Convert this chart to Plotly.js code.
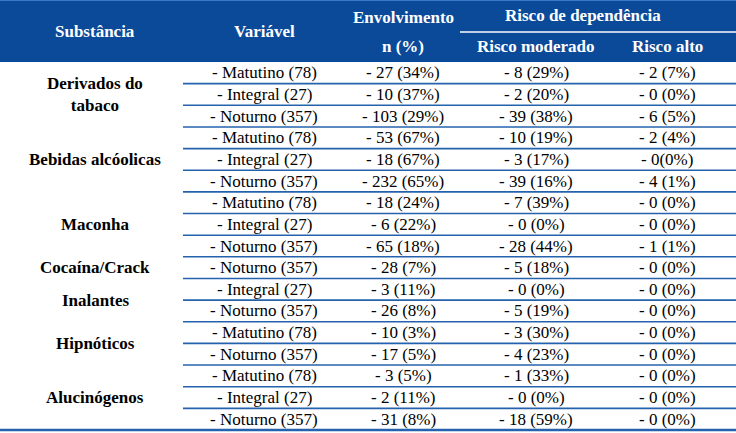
<!DOCTYPE html>
<html>
<head>
<meta charset="utf-8">
<script src="https://cdn.plot.ly/plotly-3.0.1.min.js"></script>
<style>
html,body{margin:0;padding:0;background:#fff;}
#chart{width:736px;height:433px;}
</style>
</head>
<body>
<div id="chart"></div>
<script>
// ---- DATA ----
const substances = ["Derivados do<br>tabaco", "Bebidas alcóolicas", "Maconha", "Cocaína/Crack", "Inalantes", "Hipnóticos", "Alucinógenos"];
const groupSizes = [3, 3, 3, 1, 2, 2, 3];
const variaveis = [
  "- Matutino (78)", "- Integral (27)", "- Noturno (357)",
  "- Matutino (78)", "- Integral (27)", "- Noturno (357)",
  "- Matutino (78)", "- Integral (27)", "- Noturno (357)",
  "- Noturno (357)",
  "- Integral (27)", "- Noturno (357)",
  "- Matutino (78)", "- Noturno (357)",
  "- Matutino (78)", "- Integral (27)", "- Noturno (357)"
];
const envolvimento = [
  "- 27 (34%)", "- 10 (37%)", "- 103 (29%)",
  "- 53 (67%)", "- 18 (67%)", "- 232 (65%)",
  "- 18 (24%)", "- 6 (22%)", "- 65 (18%)",
  "- 28 (7%)",
  "- 3 (11%)", "- 26 (8%)",
  "- 10 (3%)", "- 17 (5%)",
  "- 3 (5%)", "- 2 (11%)", "- 31 (8%)"
];
const riscoModerado = [
  "- 8 (29%)", "- 2 (20%)", "- 39 (38%)",
  "- 10 (19%)", "- 3 (17%)", "- 39 (16%)",
  "- 7 (39%)", "- 0 (0%)", "- 28 (44%)",
  "- 5 (18%)",
  "- 0 (0%)", "- 5 (19%)",
  "- 3 (30%)", "- 4 (23%)",
  "- 1 (33%)", "- 0 (0%)", "- 18 (59%)"
];
const riscoAlto = [
  "- 2 (7%)", "- 0 (0%)", "- 6 (5%)",
  "- 2 (4%)", "- 0(0%)", "- 4 (1%)",
  "- 0 (0%)", "- 0 (0%)", "- 1 (1%)",
  "- 0 (0%)",
  "- 0 (0%)", "- 0 (0%)",
  "- 0 (0%)", "- 0 (0%)",
  "- 0 (0%)", "- 0 (0%)", "- 0 (0%)"
];
const headers = ["Substância", "Variável", "Envolvimento", "n (%)", "Risco de dependência", "Risco moderado", "Risco alto"];

// ---- LAYOUT ----
const W = 736, H = 433;
const headerH = 62, tableBottom = 430;
const nRows = variaveis.length;
const rowH = (tableBottom - headerH) / nRows;
const colCenters = [95, 264, 403, 536, 667];
const groupHeaderCenter = 583;
const lineStart = 183, riskStart = 460;
const headerColor = "#0b4a99";
const lineColor = "#2462ae";
const serif = "Liberation Serif, DejaVu Serif, serif";

const rowY = i => headerH + (i + 0.5) * rowH;

const shapes = [];
shapes.push({type: "rect", xref: "x", yref: "y", x0: 0, x1: W, y0: 0, y1: headerH,
  fillcolor: headerColor, line: {width: 0}, layer: "below"});
shapes.push({type: "line", xref: "x", yref: "y", x0: 0, x1: W, y0: 0.5, y1: 0.5,
  line: {color: "#3a78c4", width: 1}});
shapes.push({type: "line", xref: "x", yref: "y", x0: riskStart, x1: W, y0: 32, y1: 32,
  line: {color: "#ffffff", width: 1.5}});
for (let i = 1; i < nRows; i++) {
  const y = headerH + i * rowH;
  shapes.push({type: "line", xref: "x", yref: "y", x0: lineStart, x1: W, y0: y, y1: y,
    line: {color: lineColor, width: 1.6}});
}
shapes.push({type: "line", xref: "x", yref: "y", x0: 0, x1: W, y0: tableBottom, y1: tableBottom,
  line: {color: lineColor, width: 2.4}});

const annotations = [];
function ann(x, y, text, size, color, bold) {
  annotations.push({xref: "x", yref: "y", x: x, y: y, text: bold ? "<b>" + text + "</b>" : text,
    showarrow: false, xanchor: "center", yanchor: "middle",
    font: {family: serif, size: size, color: color}});
}
// header
ann(colCenters[0], 31, headers[0], 17, "#fff", true);
ann(colCenters[1], 31, headers[1], 17, "#fff", true);
ann(colCenters[2], 17, headers[2], 17, "#fff", true);
ann(colCenters[2], 46, headers[3], 17, "#fff", true);
ann(groupHeaderCenter, 15, headers[4], 17, "#fff", true);
ann(colCenters[3], 46, headers[5], 17, "#fff", true);
ann(colCenters[4], 46, headers[6], 17, "#fff", true);

// substances
let start = 0;
substances.forEach((s, g) => {
  const n = groupSizes[g];
  const yc = headerH + (start + n / 2) * rowH;
  ann(colCenters[0], yc, s, 17, "#000", true);
  start += n;
});
// rows
for (let i = 0; i < nRows; i++) {
  ann(colCenters[1], rowY(i), variaveis[i], 17, "#000", false);
  ann(colCenters[2], rowY(i), envolvimento[i], 17, "#000", false);
  ann(colCenters[3], rowY(i), riscoModerado[i], 17, "#000", false);
  ann(colCenters[4], rowY(i), riscoAlto[i], 17, "#000", false);
}

const layout = {
  width: W, height: H,
  margin: {l: 0, r: 0, t: 0, b: 0, pad: 0},
  paper_bgcolor: "#fff", plot_bgcolor: "#fff",
  font: {family: serif},
  xaxis: {range: [0, W], visible: false, fixedrange: true},
  yaxis: {range: [H, 0], visible: false, fixedrange: true},
  shapes: shapes,
  annotations: annotations,
  showlegend: false
};
Plotly.newPlot("chart", [], layout, {displayModeBar: false, staticPlot: true});
</script>
</body>
</html>
